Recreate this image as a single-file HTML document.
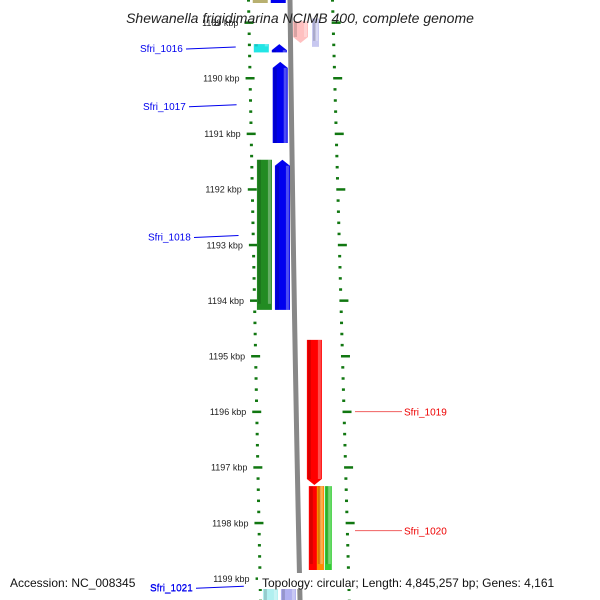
<!DOCTYPE html>
<html><head><meta charset="utf-8"><style>
body{margin:0;background:#fff;}
svg{display:block;font-family:"Liberation Sans",sans-serif;}
</style></head><body>
<svg id="c" width="600" height="600" viewBox="0 0 600 600"></svg>
<script>
const NS="http://www.w3.org/2000/svg";
const kbpTicks=[1189,1190,1191,1192,1193,1194,1195,1196,1197,1198,1199];
const geneNames=["Sfri_1016","Sfri_1016b","Sfri_1017","Sfri_1018g","Sfri_1018","Sfri_1019","Sfri_1020","Sfri_1020o","Sfri_1020g","top1","top2","top3","top4","bot1","bot2"];
const geneStart=[1189.39,1189.39,1189.71,1191.47,1191.47,1194.71,1197.34,1197.34,1197.34,1188.0,1188.0,1188.98,1188.93,1199.09,1199.09];
const geneEnd=[1189.54,1189.54,1191.17,1194.17,1194.17,1197.32,1198.85,1198.85,1198.85,1188.65,1188.65,1189.37,1189.44,1199.5,1199.5];
const geneLane=[-2,-1,-1,-2,-1,1,1,2,3,-2,-1,0.6,1.3,-2,-1];
const geneColor=["#22e5e5","#0000ee","#0000ee","#228b22","#0000ee","#ff0000","#ff0000","#ff8c00","#33cc33","#b8b070","#0000ee","#ffc0c0","#c8c8f0","#b0f0f0","#b0b0f0"];
const geneDir=[0,1,1,0,1,-1,0,0,0,0,0,-1,0,0,0];
const labelNames=["Sfri_1016","Sfri_1017","Sfri_1018","Sfri_1019","Sfri_1020","Sfri_1021"];
const labelKbp=[1189.46,1190.5,1192.85,1196.0,1198.14,1199.16];
const labelSide=[-1,-1,-1,1,1,-1];
const Y0=78,PX=55.6;
function y(k){return Y0+(k-1190)*PX;}
function bx(yy){return 290+yy*0.0167;}
const svg=document.getElementById('c');
function mk(t,a,p){const e=document.createElementNS(NS,t);for(const k in a)e.setAttribute(k,a[k]);(p||svg).appendChild(e);return e;}
// backbone
const bb=mk('path',{d:`M${bx(0)} 0 Q${bx(300)-1.5} 300 ${bx(600)} 600`,stroke:'#888',fill:'none','stroke-width':5});


// ticks
for(let k=1188.4;k<=1199.6;k+=0.2){
  const kk=Math.round(k*10)/10;const yy=y(kk);const major=Math.abs(kk-Math.round(kk))<0.01;
  const lx=244+yy*0.02, rx=331+yy*0.028;
  const t1=mk('rect',{x:major?lx:lx+3,y:yy-1,width:major?9:3,height:major?2.5:2.5,fill:'#117711'});
  
  
  const t2=mk('rect',{x:rx,y:yy-1,width:major?9:3,height:2.5,fill:'#117711'});
  
  
}
kbpTicks.forEach(k=>{const yy=y(k);const t=mk('text',{x:238+yy*0.02,y:yy+3.5,'font-size':9,'text-anchor':'end',fill:'#222'});t.textContent=k+' kbp';

});
// genes
geneNames.forEach((n,i)=>{
  const y1=y(geneStart[i]),y2=y(geneEnd[i]);const ym=(y1+y2)/2;const c=bx(ym);
  const L=geneLane[i];const w=15;
  let x1=L<0?c+L*17-3:c+10+(L-1)*(L>1?8:17);
  let ww=L>1?7:w;
  if(L<0&&L===-1)x1=c-19; if(L===-2)x1=c-37;
  if(i===11)x1=293; if(i===12)x1=312;
  const g=mk('g',{});
  
  
  let d;const a=6;
  if(geneDir[i]===1)d=`M${x1} ${y1+a} L${x1+ww/2} ${y1} L${x1+ww} ${y1+a} L${x1+ww} ${y2} L${x1} ${y2}Z`;
  else if(geneDir[i]===-1)d=`M${x1} ${y1} L${x1+ww} ${y1} L${x1+ww} ${y2-a} L${x1+ww/2} ${y2} L${x1} ${y2-a}Z`;
  else d=`M${x1} ${y1}H${x1+ww}V${y2}H${x1}Z`;
  mk('path',{d,fill:geneColor[i]},g);
  mk('rect',{x:x1+1,y:y1+(geneDir[i]===1?a:0),width:3,height:Math.max(0,y2-y1-a),fill:'#000',opacity:0.15},g);
  mk('rect',{x:x1+ww-4,y:y1+(geneDir[i]===1?a:0),width:3,height:Math.max(0,y2-y1-a),fill:'#fff',opacity:0.3},g);
});
// title
const tt=mk('text',{x:300,y:23,'font-size':14,'font-style':'italic','text-anchor':'middle',fill:'#222'});tt.textContent='Shewanella frigidimarina NCIMB 400, complete genome';


// labels
labelNames.forEach((n,i)=>{
  const yy=y(labelKbp[i]);const col=labelSide[i]<0?'#0000ee':'#ee0000';
  const g=mk('g',{});
  
  
  if(labelSide[i]<0){
    const tx=i===5?150:[140,143,148][i];
    const tw=46;
    mk('line',{x1:tx+tw,y1:yy+1,x2:235+yy*0.015,y2:yy-1,stroke:col,'stroke-width':1},g);
    const t=mk('text',{x:tx,y:yy+4,'font-size':10,fill:col},g);t.textContent=n;
  }else{
    mk('line',{x1:355,y1:yy,x2:402,y2:yy,stroke:'#f06060','stroke-width':1},g);
    const t=mk('text',{x:404,y:yy+4,'font-size':10,fill:col},g);t.textContent=n;
  }
});
// footer
const f1=mk('rect',{x:5,y:573,width:140,height:16,fill:'#fff'});


const f2=mk('rect',{x:258,y:573,width:340,height:16,fill:'#fff'});


const a1=mk('text',{x:10,y:587,'font-size':12,fill:'#111'});a1.textContent='Accession: NC_008345';


const a2=mk('text',{x:262,y:587,'font-size':12,fill:'#111'});a2.textContent='Topology: circular; Length: 4,845,257 bp; Genes: 4,161';


// redraw Sfri_1021 label on top
const l=mk('text',{x:150,y:591,'font-size':10,fill:'#0000ee'});l.textContent='Sfri_1021';


</script>
</body></html>
